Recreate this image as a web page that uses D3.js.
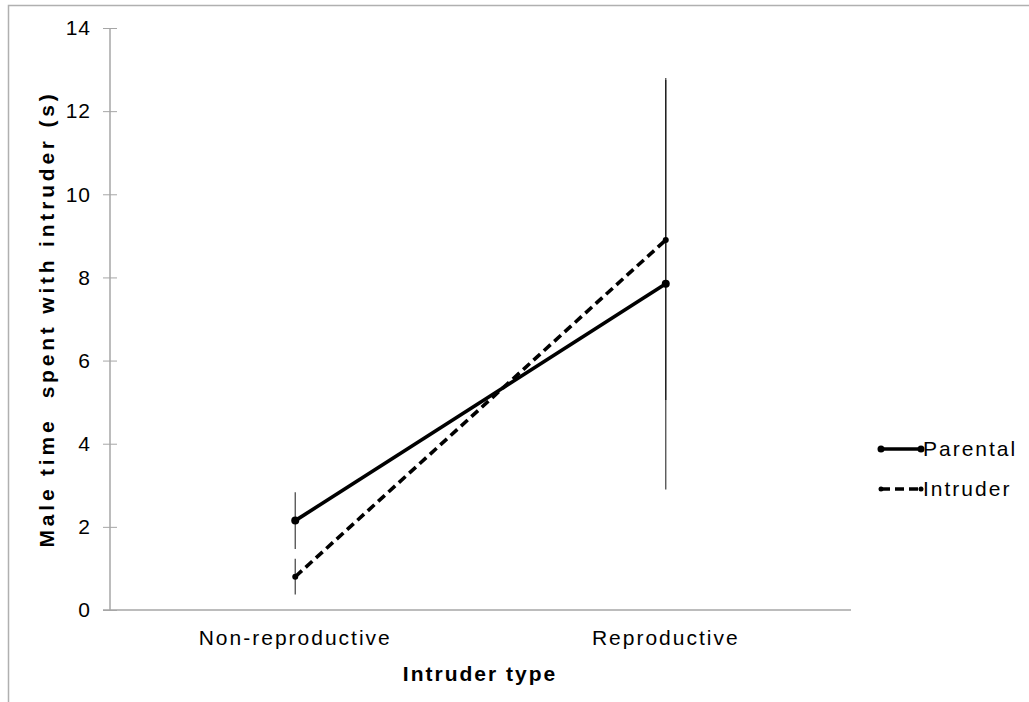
<!DOCTYPE html>
<html><head><meta charset="utf-8">
<script src="https://cdn.jsdelivr.net/npm/d3@7"></script>
<style>body{margin:0;background:#fff}svg{display:block;font-family:"Liberation Sans",Arial,sans-serif}</style>
</head><body><svg id="c" width="1029" height="702"></svg>
<script>
const categories = ["Non-reproductive", "Reproductive"];
const seriesNames = ["Parental", "Intruder"];
const parentalValues = [2.15, 7.85];
const parentalErrors = [0.68, 4.95];
const intruderValues = [0.8, 8.9];
const intruderErrors = [0.43, 3.85];
const yTicks = [0, 2, 4, 6, 8, 10, 12, 14];

(function () {
const svg = d3.select("#c");
const W = 1029, H = 702;
const FF = "Liberation Sans, Arial, sans-serif";
// frame
svg.append("path").attr("d", `M8.5,${H} L8.5,5.5 L${W},5.5`).attr("fill", "none").attr("stroke", "#b0b0b0").attr("stroke-width", 1.5);

const pLeft = 110, pRight = 851, pTop = 28, pBottom = 610;
const x = d3.scaleBand().domain(categories).range([pLeft, pRight]);
const y = d3.scaleLinear().domain([0, 14]).range([pBottom, pTop]);

// y axis
const yAx = svg.append("g").attr("transform", `translate(${pLeft},0)`)
  .call(d3.axisLeft(y).tickValues(yTicks).tickSize(7).tickPadding(12).tickFormat(d3.format("d")));
yAx.select(".domain").remove();
yAx.selectAll(".tick line").attr("x2", 7).attr("x1", -7).attr("stroke", "#a6a6a6");
yAx.append("line").attr("x1", 0).attr("x2", 0).attr("y1", pTop).attr("y2", pBottom).attr("stroke", "#a6a6a6").attr("stroke-width", 1.5);
yAx.selectAll("text").attr("font-size", 21).attr("fill", "#000").attr("font-family", FF).attr("letter-spacing", "1px");

// x axis
const xAx = svg.append("g").attr("transform", `translate(0,${pBottom})`)
  .call(d3.axisBottom(x).tickSize(0).tickPadding(20));
xAx.select(".domain").remove();
xAx.append("line").attr("x1", pLeft - 7).attr("x2", pRight).attr("y1", 0).attr("y2", 0).attr("stroke", "#a6a6a6").attr("stroke-width", 1.5);
xAx.selectAll("text").attr("font-size", 21).attr("fill", "#000").attr("font-family", FF).attr("letter-spacing", "2px");

const cx = c => x(c) + x.bandwidth() / 2;

const series = [
  {name: seriesNames[0], vals: parentalValues, errs: parentalErrors, dash: null},
  {name: seriesNames[1], vals: intruderValues, errs: intruderErrors, dash: "9,5"}
];

// error bars
series.forEach(s => {
  svg.append("g").selectAll("line").data(categories).join("line")
    .attr("x1", c => cx(c)).attr("x2", c => cx(c))
    .attr("y1", (c, i) => y(s.vals[i] + s.errs[i]))
    .attr("y2", (c, i) => y(s.vals[i] - s.errs[i]))
    .attr("stroke", "#000").attr("stroke-width", 1.3).attr("stroke-opacity", 0.7);
});

// lines & markers
series.forEach(s => {
  const line = d3.line().x((d, i) => cx(categories[i])).y(d => y(d));
  svg.append("path").datum(s.vals).attr("d", line).attr("fill", "none")
    .attr("stroke", "#000").attr("stroke-width", 3.6)
    .attr("stroke-dasharray", s.dash);
  svg.append("g").selectAll("circle").data(s.vals).join("circle")
    .attr("cx", (d, i) => cx(categories[i])).attr("cy", d => y(d))
    .attr("r", s.dash ? 3 : 4).attr("fill", "#000");
});

// axis titles
svg.append("text").attr("x", 480).attr("y", 681).attr("text-anchor", "middle").attr("font-family", FF)
  .attr("font-size", 21).attr("font-weight", "bold").attr("letter-spacing", "2px").text("Intruder type");
svg.append("text").attr("transform", `translate(54,${(pTop + pBottom) / 2}) rotate(-90)`).attr("font-family", FF)
  .attr("text-anchor", "middle").attr("font-size", 21).attr("font-weight", "bold").attr("letter-spacing", "3.8px")
  .style("white-space", "pre").text("Male time  spent with intruder (s)");

// legend
const lg = svg.append("g");
series.forEach((s, i) => {
  const ly = 449 + i * 40;
  lg.append("line").attr("x1", 881).attr("x2", 921).attr("y1", ly).attr("y2", ly)
    .attr("stroke", "#000").attr("stroke-width", 3.6).attr("stroke-dasharray", s.dash);
  [881, 921].forEach(px => lg.append("circle").attr("cx", px).attr("cy", ly).attr("r", s.dash ? 2.5 : 3.5).attr("fill", "#000"));
  lg.append("text").attr("x", 923).attr("y", ly + 7).attr("font-family", FF).attr("font-size", 21).attr("letter-spacing", "2px").text(s.name);
});
})();
</script></body></html>
